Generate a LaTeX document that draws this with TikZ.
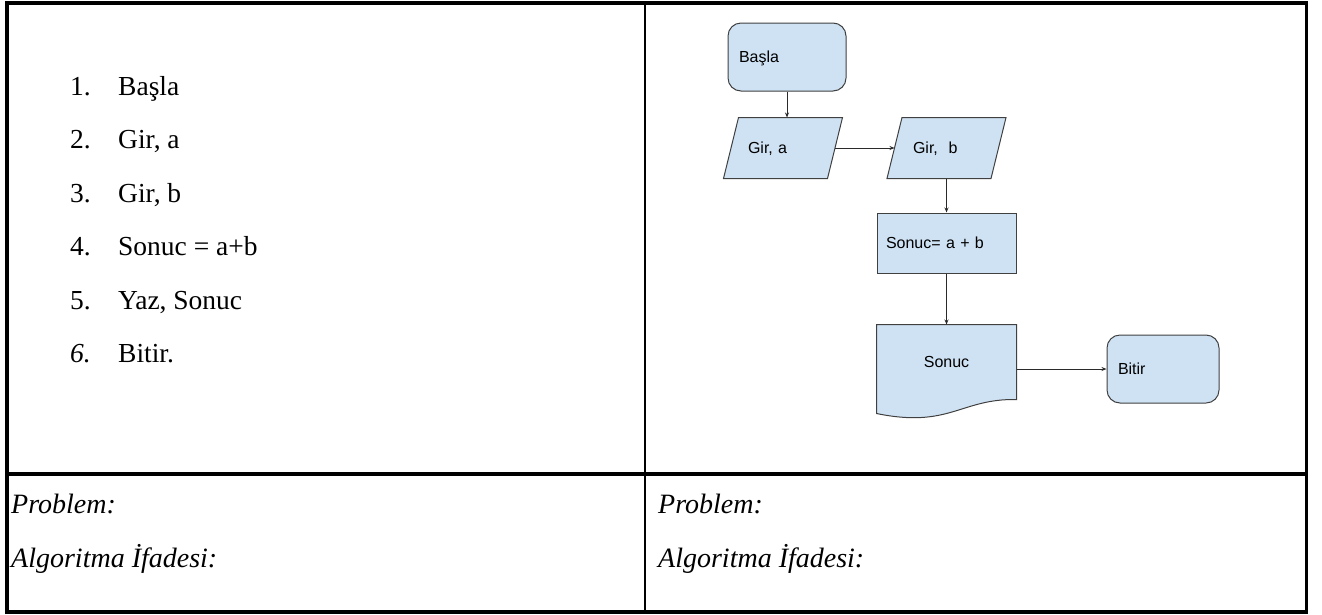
\documentclass[tikz,border=0pt]{standalone}
\usepackage{fontspec}
\setmainfont{Liberation Serif}
\newfontfamily\flowfont{Liberation Sans}
\usetikzlibrary{arrows.meta,calc}
\pgfdeclarelayer{background}
\pgfsetlayers{background,main}
\definecolor{boxfill}{HTML}{CFE2F3}
\definecolor{boxline}{HTML}{404040}
\definecolor{arrline}{HTML}{2A2A2A}
\begin{document}
\begin{tikzpicture}[x=1pt,y=-1pt,
  frame/.style={line width=3.2pt, black},
  listtext/.style={anchor=base west, inner sep=0pt, font=\fontsize{27.5}{32}\selectfont},
  foottext/.style={anchor=base west, inner sep=0pt, font=\fontsize{28}{33}\selectfont\itshape},
  flowbox/.style={draw=boxline, fill=boxfill, line width=1pt, inner ysep=0pt,
    font=\flowfont\fontsize{16}{18}\selectfont, text height=11.5pt, text depth=0pt, align=left},
  termbox/.style={flowbox, rounded corners=13pt, inner xsep=11pt},
  procbox/.style={flowbox, inner xsep=9pt},
  ghostbox/.style={flowbox, draw=none, fill=none},
  shapeline/.style={draw=boxline, fill=boxfill, line width=1pt},
  arr/.style={draw=arrline, line width=0.9pt, -{Stealth[length=5pt,width=4pt]}}
]
\useasboundingbox (0,0) rectangle (1322,614);

% table frame
\draw[frame] (7,3) rectangle (1306.5,612);
\draw[line width=3.2pt] (7,474) -- (1306.5,474);
\draw[line width=2.6pt] (645,3) -- (645,612);

% algorithm list
\node[listtext] (n1) at (70,95) {1.};
\node[listtext] (t1) at (118,95) {Başla};
\node[listtext] (n2) at (70,148.5) {2.};
\node[listtext] (t2) at (118,148.5) {Gir, a};
\node[listtext] (n3) at (70,202) {3.};
\node[listtext] (t3) at (118,202) {Gir, b};
\node[listtext] (n4) at (70,255.5) {4.};
\node[listtext] (t4) at (118,255.5) {Sonuc = a+b};
\node[listtext] (n5) at (70,309) {5.};
\node[listtext] (t5) at (118,309) {Yaz, Sonuc};
\node[listtext] (n6) at (70,362.5) {\itshape 6.};
\node[listtext] (t6) at (118,362.5) {Bitir.};

% footer texts
\node[foottext] (p1) at (11,513) {Problem:};
\node[foottext] (a1) at (11,567) {Algoritma İfadesi:};
\node[foottext] (p2) at (658,513) {Problem:};
\node[foottext] (a2) at (658,567) {Algoritma İfadesi:};

% flowchart nodes
\node[termbox, text width=96pt, minimum height=68pt] (basla) at (787,57) {Başla};
\node[ghostbox, inner xsep=16.5pt, text width=70pt, minimum height=60pt] (gira) at (783,148) {Gir, a};
\node[ghostbox, inner xsep=18pt, text width=67pt, minimum height=60pt] (girb) at (946.5,148) {Gir,\ \ b};
\node[procbox, text width=121pt, minimum height=60pt] (islem) at (946.5,243) {Sonuc= a + b};
\node[ghostbox, align=center, text width=120pt, inner xsep=9.5pt, minimum height=74pt] (doc) at (946.5,362) {Sonuc};
\node[termbox, text width=90pt, minimum height=68pt] (bitir) at (1163,369) {Bitir};

\begin{pgfonlayer}{background}
  \path[shapeline] ([xshift=-7.5pt]gira.south west) -- ([xshift=7.5pt]gira.north west)
    -- ([xshift=7.5pt]gira.north east) -- ([xshift=-7.5pt]gira.south east) -- cycle;
  \path[shapeline] ([xshift=-7.5pt]girb.south west) -- ([xshift=7.5pt]girb.north west)
    -- ([xshift=7.5pt]girb.north east) -- ([xshift=-7.5pt]girb.south east) -- cycle;
  \path[shapeline] (doc.north west) -- (doc.north east) -- (doc.south east)
    .. controls +(-56,-1) and +(73,15) .. ([yshift=-14pt]doc.south west) -- cycle;
\end{pgfonlayer}

% connectors
\draw[arr] (basla) -- (gira.north -| basla);
\draw[arr] (gira.east) -- (girb.west);
\draw[arr] (girb.south) -- (islem.north);
\draw[arr] (islem.south) -- (doc.north);
\draw[arr] (doc.east |- bitir.west) -- (bitir.west);
\end{tikzpicture}
\end{document}
